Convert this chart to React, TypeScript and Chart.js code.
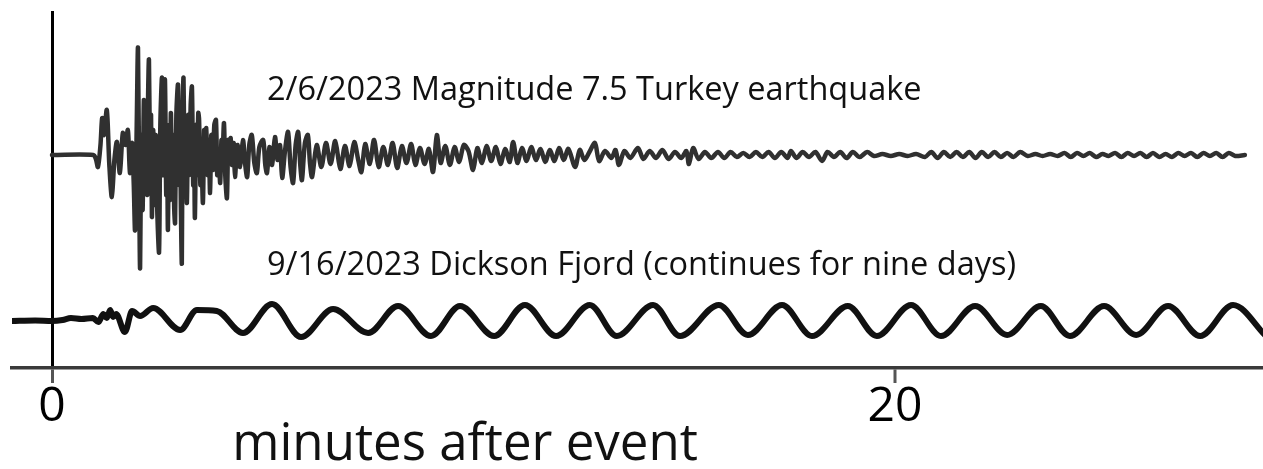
import React, { useEffect, useRef } from "react";
import { Chart, registerables } from "chart.js";

Chart.register(...registerables);

// [minutes after event, ground motion (arbitrary units)]
const turkeyTrace: number[][] = [
  [0.0, 0], [0.98, 0], [1.04, -4], [1.09, -12], [1.15, 10], [1.19, 37], [1.23, 20], [1.3, 45],
  [1.36, -10], [1.42, -42], [1.48, -5], [1.54, 13], [1.61, -18], [1.68, 22], [1.74, 10], [1.8, 25],
  [1.85, -18], [1.9, 12], [1.94, -30], [1.97, -75], [2.01, 30], [2.04, 107], [2.07, -40], [2.09, -113],
  [2.12, 20], [2.15, -55], [2.18, 55], [2.21, -30], [2.24, 32], [2.26, -40], [2.28, 60], [2.3, 95],
  [2.33, -20], [2.35, 40], [2.37, -62], [2.4, 25], [2.43, -50], [2.46, 20], [2.5, -60], [2.54, -97],
  [2.57, 30], [2.61, 77], [2.63, -20], [2.65, 40], [2.68, 75], [2.71, -40], [2.73, 20], [2.75, -75],
  [2.78, 30], [2.8, -45], [2.82, 42], [2.85, -30], [2.87, 20], [2.9, -55], [2.92, -68], [2.95, 40],
  [2.99, 70], [3.02, -30], [3.04, 10], [3.06, -60], [3.08, -108], [3.1, 40], [3.12, 77], [3.15, -30],
  [3.17, 30], [3.2, -48], [3.23, 40], [3.26, -20], [3.29, 50], [3.32, 68], [3.35, -30], [3.37, 20],
  [3.39, -63], [3.42, 30], [3.44, -20], [3.47, 42], [3.49, 35], [3.52, -30], [3.54, 10], [3.58, -48],
  [3.61, 25], [3.63, -15], [3.66, 27], [3.69, -20], [3.72, 15], [3.75, -38], [3.78, 20], [3.82, -15],
  [3.85, 30], [3.89, 35], [3.92, -20], [3.95, 5], [3.99, -28], [4.02, 15], [4.04, -10], [4.08, 32],
  [4.11, -20], [4.15, -43], [4.18, 15], [4.21, -5], [4.24, 17], [4.27, -10], [4.31, 12], [4.34, -22],
  [4.4, 10], [4.46, -12], [4.53, 15], [4.58, -8], [4.63, -22], [4.68, 10], [4.74, 20], [4.8, -8],
  [4.86, -18], [4.92, 8], [5.01, 15], [5.06, -10], [5.1, -18], [5.16, 8], [5.22, -10], [5.29, 18],
  [5.35, -5], [5.41, 10], [5.46, -23], [5.53, 5], [5.6, 23], [5.66, -12], [5.72, -28], [5.78, 10],
  [5.84, 23], [5.89, -10], [5.93, -25], [6.0, 12], [6.07, 20], [6.12, -8], [6.17, -22], [6.28, 10],
  [6.39, -12], [6.5, 12], [6.61, -9], [6.72, 14], [6.84, -14], [6.95, 9], [7.06, -11], [7.17, 13],
  [7.27, -6], [7.34, -17], [7.43, 11], [7.54, -9], [7.64, 15], [7.75, -12], [7.86, 8], [7.97, -10],
  [8.08, 12], [8.19, -13], [8.3, 9], [8.41, -8], [8.52, 11], [8.62, -10], [8.73, 7], [8.84, -9],
  [8.94, 6], [9.04, -17], [9.13, 20], [9.22, -8], [9.33, 9], [9.44, -10], [9.55, 8], [9.66, -7],
  [9.77, 10], [9.88, 4], [9.99, -15], [10.09, 7], [10.2, -8], [10.31, 9], [10.42, -6], [10.53, 8],
  [10.64, -9], [10.75, 6], [10.86, -7], [10.94, 13], [11.04, -8], [11.15, 7], [11.26, -6], [11.37, 8],
  [11.48, -5], [11.59, 6], [11.7, -7], [11.81, 5], [11.92, -6], [12.03, 7], [12.14, -5], [12.25, 6],
  [12.41, -12], [12.52, 5], [12.63, -5], [12.75, 3], [12.88, 12], [12.98, -6], [13.12, 4], [13.27, -3],
  [13.37, 5], [13.45, -10], [13.58, 4], [13.72, -3], [13.9, 7], [14.03, -4], [14.18, 4], [14.33, -3],
  [14.48, 5], [14.63, -4], [14.78, 3], [14.93, -3], [15.05, 4], [15.11, -9], [15.21, 7], [15.34, -4],
  [15.49, 3], [15.64, -3], [15.8, 3], [15.95, -3], [16.1, 3], [16.25, -2], [16.4, 2], [16.55, -2],
  [16.7, 3], [16.85, -2], [17.0, 3], [17.15, -3], [17.3, 3], [17.45, -3], [17.53, 4], [17.66, -3],
  [17.81, 3], [17.96, -2], [18.11, 3], [18.27, -6], [18.4, 3], [18.55, -2], [18.7, 3], [18.85, -3],
  [19.0, 3], [19.16, -2], [19.34, 3], [19.5, -1], [19.7, 1], [19.9, -1], [20.1, 1], [20.3, -1],
  [20.5, 1], [20.71, -2], [20.86, 3], [21.01, -3], [21.16, 3], [21.31, -2], [21.46, 3], [21.61, -2],
  [21.76, 3], [21.91, -3], [22.06, 3], [22.21, -2], [22.36, 3], [22.51, -2], [22.66, 2], [22.81, -2],
  [22.97, 3], [23.15, -1], [23.33, 1], [23.5, -1], [23.68, 1], [23.86, -1], [24.02, 2], [24.17, -2],
  [24.32, 2], [24.47, -1], [24.62, 2], [24.77, -2], [24.92, 1], [25.07, -1], [25.22, 2], [25.37, -2],
  [25.52, 2], [25.67, -1], [25.82, 2], [25.97, -2], [26.12, 2], [26.27, -2], [26.42, 1], [26.57, -2],
  [26.72, 2], [26.87, -1], [27.02, 2], [27.17, -2], [27.32, 2], [27.47, -1], [27.62, 2], [27.77, -2],
  [27.92, 2], [28.07, -1], [28.3, 0],
];

const fjordTrace: number[][] = [
  [-0.95, 0], [-0.4, 0.5], [0.0, 0], [0.25, 1], [0.45, 3], [0.7, 2], [0.97, 3], [1.1, -1],
  [1.22, 7], [1.3, 3], [1.38, 11], [1.45, 4], [1.52, 7], [1.73, -11], [1.9, 10], [2.09, 5],
  [2.4, 13], [3.04, -9], [3.44, 11], [3.91, 10], [4.53, -12], [5.22, 17], [5.91, -16], [6.67, 12],
  [7.5, -12], [8.21, 15], [8.99, -15], [9.68, 15], [10.49, -15], [11.22, 16], [11.96, -15], [12.76, 16],
  [13.4, -15], [14.26, 16], [14.9, -15], [15.82, 16], [16.51, -14], [17.32, 16], [18.03, -15], [18.88, 15],
  [19.57, -15], [20.38, 16], [21.09, -15], [21.9, 15], [22.66, -14], [23.46, 15], [24.15, -15], [24.96, 15],
  [25.72, -14], [26.48, 15], [27.24, -15], [28.02, 16], [28.8, -15],
];

const xTickValues = [0, 20];
const turkeyLabel = "2/6/2023 Magnitude 7.5 Turkey earthquake";
const fjordLabel = "9/16/2023 Dickson Fjord (continues for nine days)";
const xAxisTitle = "minutes after event";

const FONT = "'Open Sans', 'DejaVu Sans', sans-serif";

const labelPlugin = {
  id: "traceLabels",
  afterDraw(chart: any) {
    const { ctx } = chart;
    const x = chart.scales.x;
    const yT = chart.scales.yTurkey;
    const yF = chart.scales.yFjord;
    ctx.save();
    ctx.fillStyle = "#111111";
    ctx.textBaseline = "alphabetic";
    ctx.textAlign = "left";
    ctx.font = `32.5px ${FONT}`;
    ctx.fillText(turkeyLabel, x.getPixelForValue(5.1), yT.getPixelForValue(55));
    ctx.fillText(fjordLabel, x.getPixelForValue(5.1), yF.getPixelForValue(46));
    ctx.font = `51px ${FONT}`;
    ctx.textAlign = "center";
    ctx.fillText(xAxisTitle, x.getPixelForValue(9.8), x.top + 92);
    ctx.restore();
  },
};

export default function App() {
  const canvasRef = useRef<HTMLCanvasElement | null>(null);

  useEffect(() => {
    if (!canvasRef.current) return;
    const chart = new Chart(canvasRef.current, {
      type: "line",
      data: {
        datasets: [
          {
            label: "Turkey earthquake",
            data: turkeyTrace.map(([m, a]) => ({ x: m, y: a })),
            yAxisID: "yTurkey",
            borderColor: "#303030",
            borderWidth: 4.5,
            pointRadius: 0,
            tension: 0.3,
            borderJoinStyle: "round",
            borderCapStyle: "round",
          },
          {
            label: "Dickson Fjord",
            data: fjordTrace.map(([m, a]) => ({ x: m, y: a })),
            yAxisID: "yFjord",
            borderColor: "#111111",
            borderWidth: 6,
            pointRadius: 0,
            cubicInterpolationMode: "monotone",
          },
        ],
      },
      options: {
        animation: false,
        responsive: false,
        events: [],
        layout: { padding: { left: 12, top: 11, right: 0, bottom: 0 } },
        plugins: { legend: { display: false }, tooltip: { enabled: false } },
        scales: {
          x: {
            type: "linear",
            min: -0.949,
            max: 28.73,
            afterBuildTicks: (scale: any) => {
              scale.ticks = xTickValues.map((v) => ({ value: v }));
            },
            afterFit: (scale: any) => {
              scale.height = 101;
            },
            grid: {
              drawOnChartArea: true,
              drawTicks: true,
              tickLength: 15,
              color: (c: any) => (c.tick && c.tick.value === 0 ? "#000000" : "rgba(0,0,0,0)"),
              lineWidth: (c: any) => (c.tick && c.tick.value === 0 ? 3 : 0),
              tickColor: "#555555",
              tickWidth: 3,
            },
            border: { display: true, color: "#3a3a3a", width: 3.5 },
            ticks: {
              color: "#000000",
              font: { family: FONT, size: 48, lineHeight: 1 },
              padding: 0,
              maxRotation: 0,
              autoSkip: false,
            },
          },
          yTurkey: {
            type: "linear",
            display: false,
            min: -213,
            max: 144,
          },
          yFjord: {
            type: "linear",
            display: false,
            min: -47,
            max: 310,
          },
        },
      },
      plugins: [labelPlugin],
    });
    return () => chart.destroy();
  }, []);

  return (
    <div style={{ position: "absolute", left: 0, top: 0, width: 1263, height: 469, background: "#ffffff" }}>
      <canvas ref={canvasRef} width={1263} height={469} />
    </div>
  );
}
